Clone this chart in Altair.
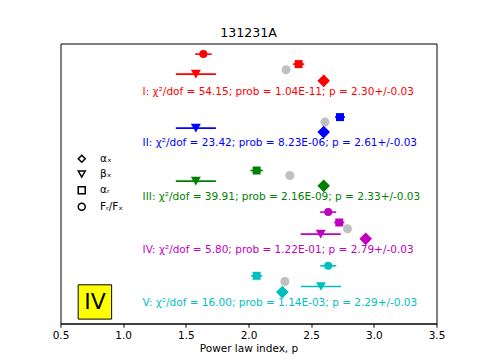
import altair as alt
import pandas as pd

# ---- data ----
series = ["I", "II", "III", "IV", "V"]
series_colors = ["#ff0000", "#0000ff", "#008000", "#bf00bf", "#00bfbf"]

quantities = ["αₓ", "βₓ", "αᵣ", "Fᵣ/Fₓ"]
quantity_shapes = ["diamond", "triangle-down", "square", "circle"]
quantity_sizes = [160, 100, 64, 64]

# alpha_X (diamonds)
alphaX_p = [2.60, 2.60, 2.60, 2.935, 2.27]
alphaX_err = [0.0, 0.0, 0.0, 0.0, 0.0]
alphaX_y = [24.27, 19.14, 13.77, 8.47, 3.14]
# beta_X (down triangles)
betaX_p = [1.58, 1.58, 1.58, 2.576, 2.578]
betaX_err = [0.16, 0.16, 0.16, 0.16, 0.16]
betaX_y = [24.94, 19.54, 14.24, 8.94, 3.70]
# alpha_R (squares)
alphaR_p = [2.40, 2.73, 2.065, 2.724, 2.065]
alphaR_err = [0.045, 0.04, 0.05, 0.04, 0.045]
alphaR_y = [25.94, 20.64, 15.30, 10.10, 4.77]
# F_R/F_X (circles) - not present for II and III
ratio_series = ["I", "IV", "V"]
ratio_p = [1.64, 2.636, 2.636]
ratio_err = [0.066, 0.064, 0.064]
ratio_y = [26.94, 11.14, 5.77]

# fitted p (grey circles) and fit statistics
fit_p = [2.30, 2.61, 2.33, 2.79, 2.29]
fit_err = [0.03, 0.03, 0.03, 0.03, 0.03]
fit_y = [25.37, 20.14, 14.80, 9.47, 4.20]
chi2_dof = [54.15, 23.42, 39.91, 5.80, 16.00]
prob = ["1.04E-11", "8.23E-06", "2.16E-09", "1.22E-01", "1.14E-03"]
label_y = [23.17, 18.07, 12.62, 7.37, 2.09]
label_x = 1.155

title_text = "131231A"
x_title = "Power law index, p"
x_ticks = [0.5, 1.0, 1.5, 2.0, 2.5, 3.0, 3.5]
box_label = "IV"
box_x = [0.641, 0.908]
box_y = [0.44, 3.87]

# ---- build tables ----
rows = []
for q, ps, es, ys, ss in [
    (quantities[0], alphaX_p, alphaX_err, alphaX_y, series),
    (quantities[1], betaX_p, betaX_err, betaX_y, series),
    (quantities[2], alphaR_p, alphaR_err, alphaR_y, series),
    (quantities[3], ratio_p, ratio_err, ratio_y, ratio_series),
]:
    for s, p, e, y in zip(ss, ps, es, ys):
        rows.append({"series": s, "quantity": q, "p": p, "lo": p - e, "hi": p + e, "y": y})
pts = pd.DataFrame(rows)

fit = pd.DataFrame({"series": series, "p": fit_p, "y": fit_y})
labels = pd.DataFrame({
    "series": series,
    "x": [label_x] * 5,
    "y": label_y,
    "text": [f"{s}: χ²/dof = {c:.2f}; prob = {pr}; p = {f:.2f}+/-{e:.2f}"
             for s, c, pr, f, e in zip(series, chi2_dof, prob, fit_p, fit_err)],
})
box = pd.DataFrame({"x": [box_x[0]], "x2": [box_x[1]], "y": [box_y[0]], "y2": [box_y[1]],
                    "xc": [(box_x[0] + box_x[1]) / 2], "yc": [(box_y[0] + box_y[1]) / 2],
                    "t": [box_label]})

FONT = "DejaVu Sans"
xscale = alt.Scale(domain=[0.5, 3.5], nice=False, zero=False)
yscale = alt.Scale(domain=[0, 28], nice=False, zero=False)
cscale = alt.Scale(domain=series, range=series_colors)
sscale = alt.Scale(domain=quantities, range=quantity_shapes)

xaxis = alt.Axis(title=x_title, values=x_ticks, format=".1f", grid=False,
                 domainColor="#000000", tickColor="#000000", tickSize=3.7,
                 labelFontSize=10.5, titleFontSize=10.5, labelFont=FONT,
                 titleFont=FONT, labelColor="#000000", titleColor="#000000",
                 titleFontWeight="normal", labelPadding=3, titlePadding=3,
                 labelFlush=False)
yenc = alt.Y("y:Q", scale=yscale, axis=None)
colenc = alt.Color("series:N", scale=cscale, legend=None)

errbars = alt.Chart(pts).mark_rule(strokeWidth=1.6).encode(
    x=alt.X("lo:Q", scale=xscale, axis=xaxis), x2="hi:Q", y=yenc, color=colenc,
)

legend = alt.Legend(title=None, orient="none", legendX=16, legendY=110,
                    padding=0, symbolFillColor="white",
                    symbolStrokeColor="black", symbolStrokeWidth=1.5,
                    symbolSize=49, labelFontSize=10.5, labelFont=FONT,
                    labelColor="black", labelOffset=13, rowPadding=2.3)

point_layers = []
for q, sz in zip(quantities, quantity_sizes):
    point_layers.append(
        alt.Chart(pts).transform_filter(alt.datum.quantity == q)
        .mark_point(filled=True, opacity=1, size=sz).encode(
            x=alt.X("p:Q", scale=xscale), y=yenc, color=colenc,
            shape=alt.Shape("quantity:N", scale=sscale, legend=legend),
        )
    )

grey = alt.Chart(fit).mark_point(filled=True, opacity=1, shape="circle", size=81,
                                 color="#c0c0c0").encode(
    x=alt.X("p:Q", scale=xscale), y=yenc,
)

texts = alt.Chart(labels).mark_text(align="left", baseline="middle", fontSize=10.5,
                                    font=FONT).encode(
    x=alt.X("x:Q", scale=xscale), y=yenc, text="text:N", color=colenc,
)

box_rect = alt.Chart(box).mark_rect(fill="#ffff00", stroke="black", strokeWidth=1).encode(
    x=alt.X("x:Q", scale=xscale), x2="x2:Q",
    y=alt.Y("y:Q", scale=yscale, axis=None), y2="y2:Q",
)
box_text = alt.Chart(box).mark_text(fontSize=22, font=FONT, color="black",
                                    baseline="middle", align="center").encode(
    x=alt.X("xc:Q", scale=xscale),
    y=alt.Y("yc:Q", scale=yscale, axis=None), text="t:N",
)

chart = alt.layer(errbars, *point_layers[2:], grey, *point_layers[:2], texts,
                  box_rect, box_text).properties(
    width=376, height=280,
    background="white",
    title=alt.Title(title_text, fontSize=12.6, fontWeight="normal", font=FONT,
                    color="black", offset=4),
    autosize=alt.AutoSizeParams(type="none"),
    padding={"left": 52.5, "top": 35.5, "right": 40.5, "bottom": 32.5},
).configure_view(
    stroke="#000000", strokeWidth=1, strokeOpacity=1
)

chart.save("out.html", embed_options={"renderer": "svg", "actions": False})
